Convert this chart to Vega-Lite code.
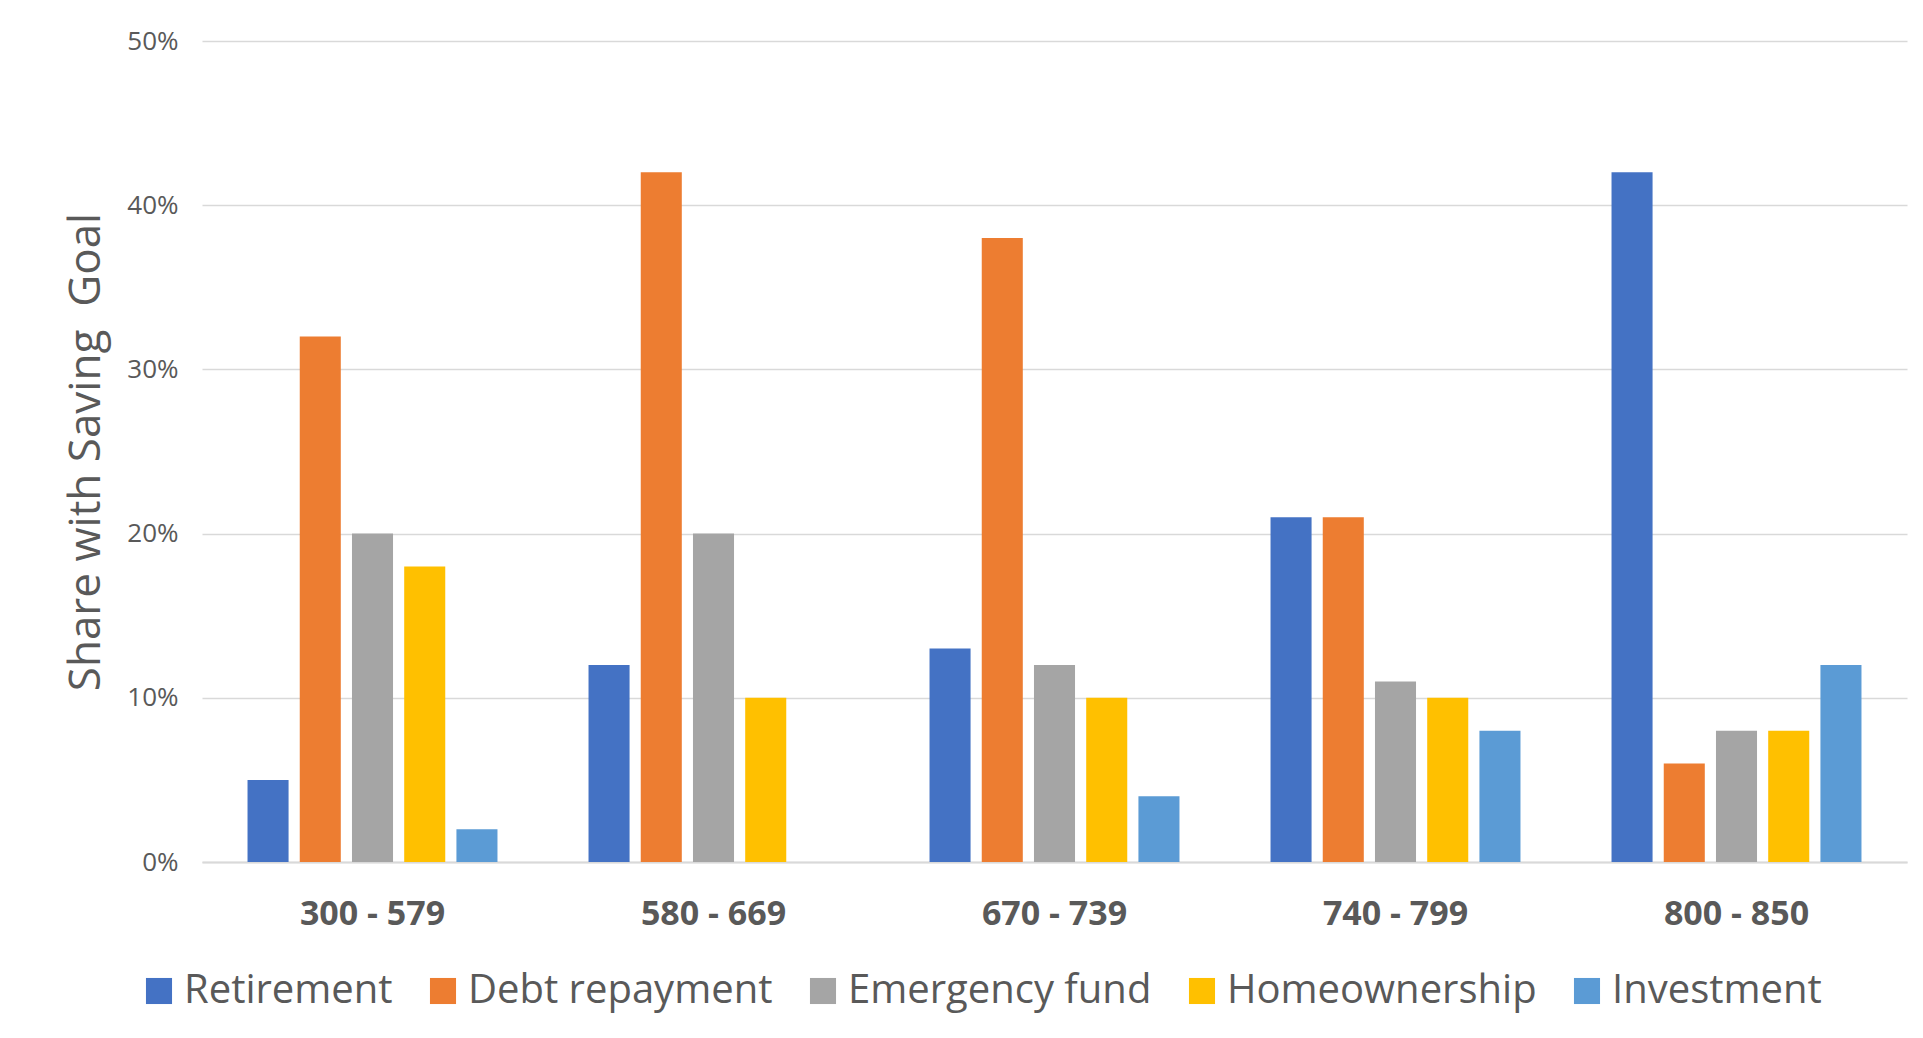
{
  "$schema": "https://vega.github.io/schema/vega-lite/v6.json",
  "autosize": {"type": "none"},
  "width": 1705,
  "height": 821,
  "padding": {"left": 202, "top": 41, "right": 16, "bottom": 176},
  "background": "white",
  "config": {
    "font": "Open Sans",
    "view": {"stroke": null}
  },
  "data": {
    "values": [
      {"score": "300 - 579", "goal": "Retirement", "share": 0.05},
      {"score": "300 - 579", "goal": "Debt repayment", "share": 0.32},
      {"score": "300 - 579", "goal": "Emergency fund", "share": 0.20},
      {"score": "300 - 579", "goal": "Homeownership", "share": 0.18},
      {"score": "300 - 579", "goal": "Investment", "share": 0.02},
      {"score": "580 - 669", "goal": "Retirement", "share": 0.12},
      {"score": "580 - 669", "goal": "Debt repayment", "share": 0.42},
      {"score": "580 - 669", "goal": "Emergency fund", "share": 0.20},
      {"score": "580 - 669", "goal": "Homeownership", "share": 0.10},
      {"score": "670 - 739", "goal": "Retirement", "share": 0.13},
      {"score": "670 - 739", "goal": "Debt repayment", "share": 0.38},
      {"score": "670 - 739", "goal": "Emergency fund", "share": 0.12},
      {"score": "670 - 739", "goal": "Homeownership", "share": 0.10},
      {"score": "670 - 739", "goal": "Investment", "share": 0.04},
      {"score": "740 - 799", "goal": "Retirement", "share": 0.21},
      {"score": "740 - 799", "goal": "Debt repayment", "share": 0.21},
      {"score": "740 - 799", "goal": "Emergency fund", "share": 0.11},
      {"score": "740 - 799", "goal": "Homeownership", "share": 0.10},
      {"score": "740 - 799", "goal": "Investment", "share": 0.08},
      {"score": "800 - 850", "goal": "Retirement", "share": 0.42},
      {"score": "800 - 850", "goal": "Debt repayment", "share": 0.06},
      {"score": "800 - 850", "goal": "Emergency fund", "share": 0.08},
      {"score": "800 - 850", "goal": "Homeownership", "share": 0.08},
      {"score": "800 - 850", "goal": "Investment", "share": 0.12}
    ]
  },
  "mark": {"type": "bar"},
  "encoding": {
    "x": {
      "field": "score",
      "type": "nominal",
      "sort": null,
      "scale": {"paddingInner": 0.267, "paddingOuter": 0.1335},
      "axis": {
        "title": null,
        "labelAngle": 0,
        "labelFont": "Open Sans",
        "labelFontSize": 34,
        "labelFontWeight": "bold",
        "labelColor": "#595959",
        "labelPadding": 35,
        "ticks": false,
        "domainColor": "#d9d9d9",
        "domainWidth": 2
      }
    },
    "xOffset": {
      "field": "goal",
      "type": "nominal",
      "sort": ["Retirement", "Debt repayment", "Emergency fund", "Homeownership", "Investment"],
      "scale": {"domain": ["Retirement", "Debt repayment", "Emergency fund", "Homeownership", "Investment"], "paddingInner": 0.214, "paddingOuter": 0}
    },
    "y": {
      "field": "share",
      "type": "quantitative",
      "scale": {"domain": [0, 0.5], "nice": false},
      "axis": {
        "title": "Share with Saving\u00a0 Goal",
        "titleFont": "Open Sans",
        "titleFontSize": 44,
        "titleFontWeight": "normal",
        "titleColor": "#595959",
        "titlePadding": 18,
        "values": [0, 0.1, 0.2, 0.3, 0.4, 0.5],
        "format": ".0%",
        "labelFont": "Open Sans",
        "labelFontSize": 26,
        "labelColor": "#595959",
        "labelPadding": 24,
        "ticks": false,
        "domain": false,
        "grid": true,
        "gridColor": "#d9d9d9",
        "gridWidth": 1.6
      }
    },
    "color": {
      "field": "goal",
      "type": "nominal",
      "sort": ["Retirement", "Debt repayment", "Emergency fund", "Homeownership", "Investment"],
      "scale": {
        "domain": ["Retirement", "Debt repayment", "Emergency fund", "Homeownership", "Investment"],
        "range": ["#4472C4", "#ED7D31", "#A5A5A5", "#FFC000", "#5B9BD5"]
      },
      "legend": {
        "title": null,
        "orient": "none",
        "direction": "horizontal",
        "legendX": -63,
        "legendY": 930,
        "symbolType": "square",
        "symbolSize": 680,
        "symbolStrokeWidth": 0,
        "symbolOpacity": 1,
        "labelFont": "Open Sans",
        "labelFontSize": 40,
        "labelColor": "#595959",
        "labelOffset": 5,
        "columnPadding": 30,
        "labelLimit": 0
      }
    }
  }
}
